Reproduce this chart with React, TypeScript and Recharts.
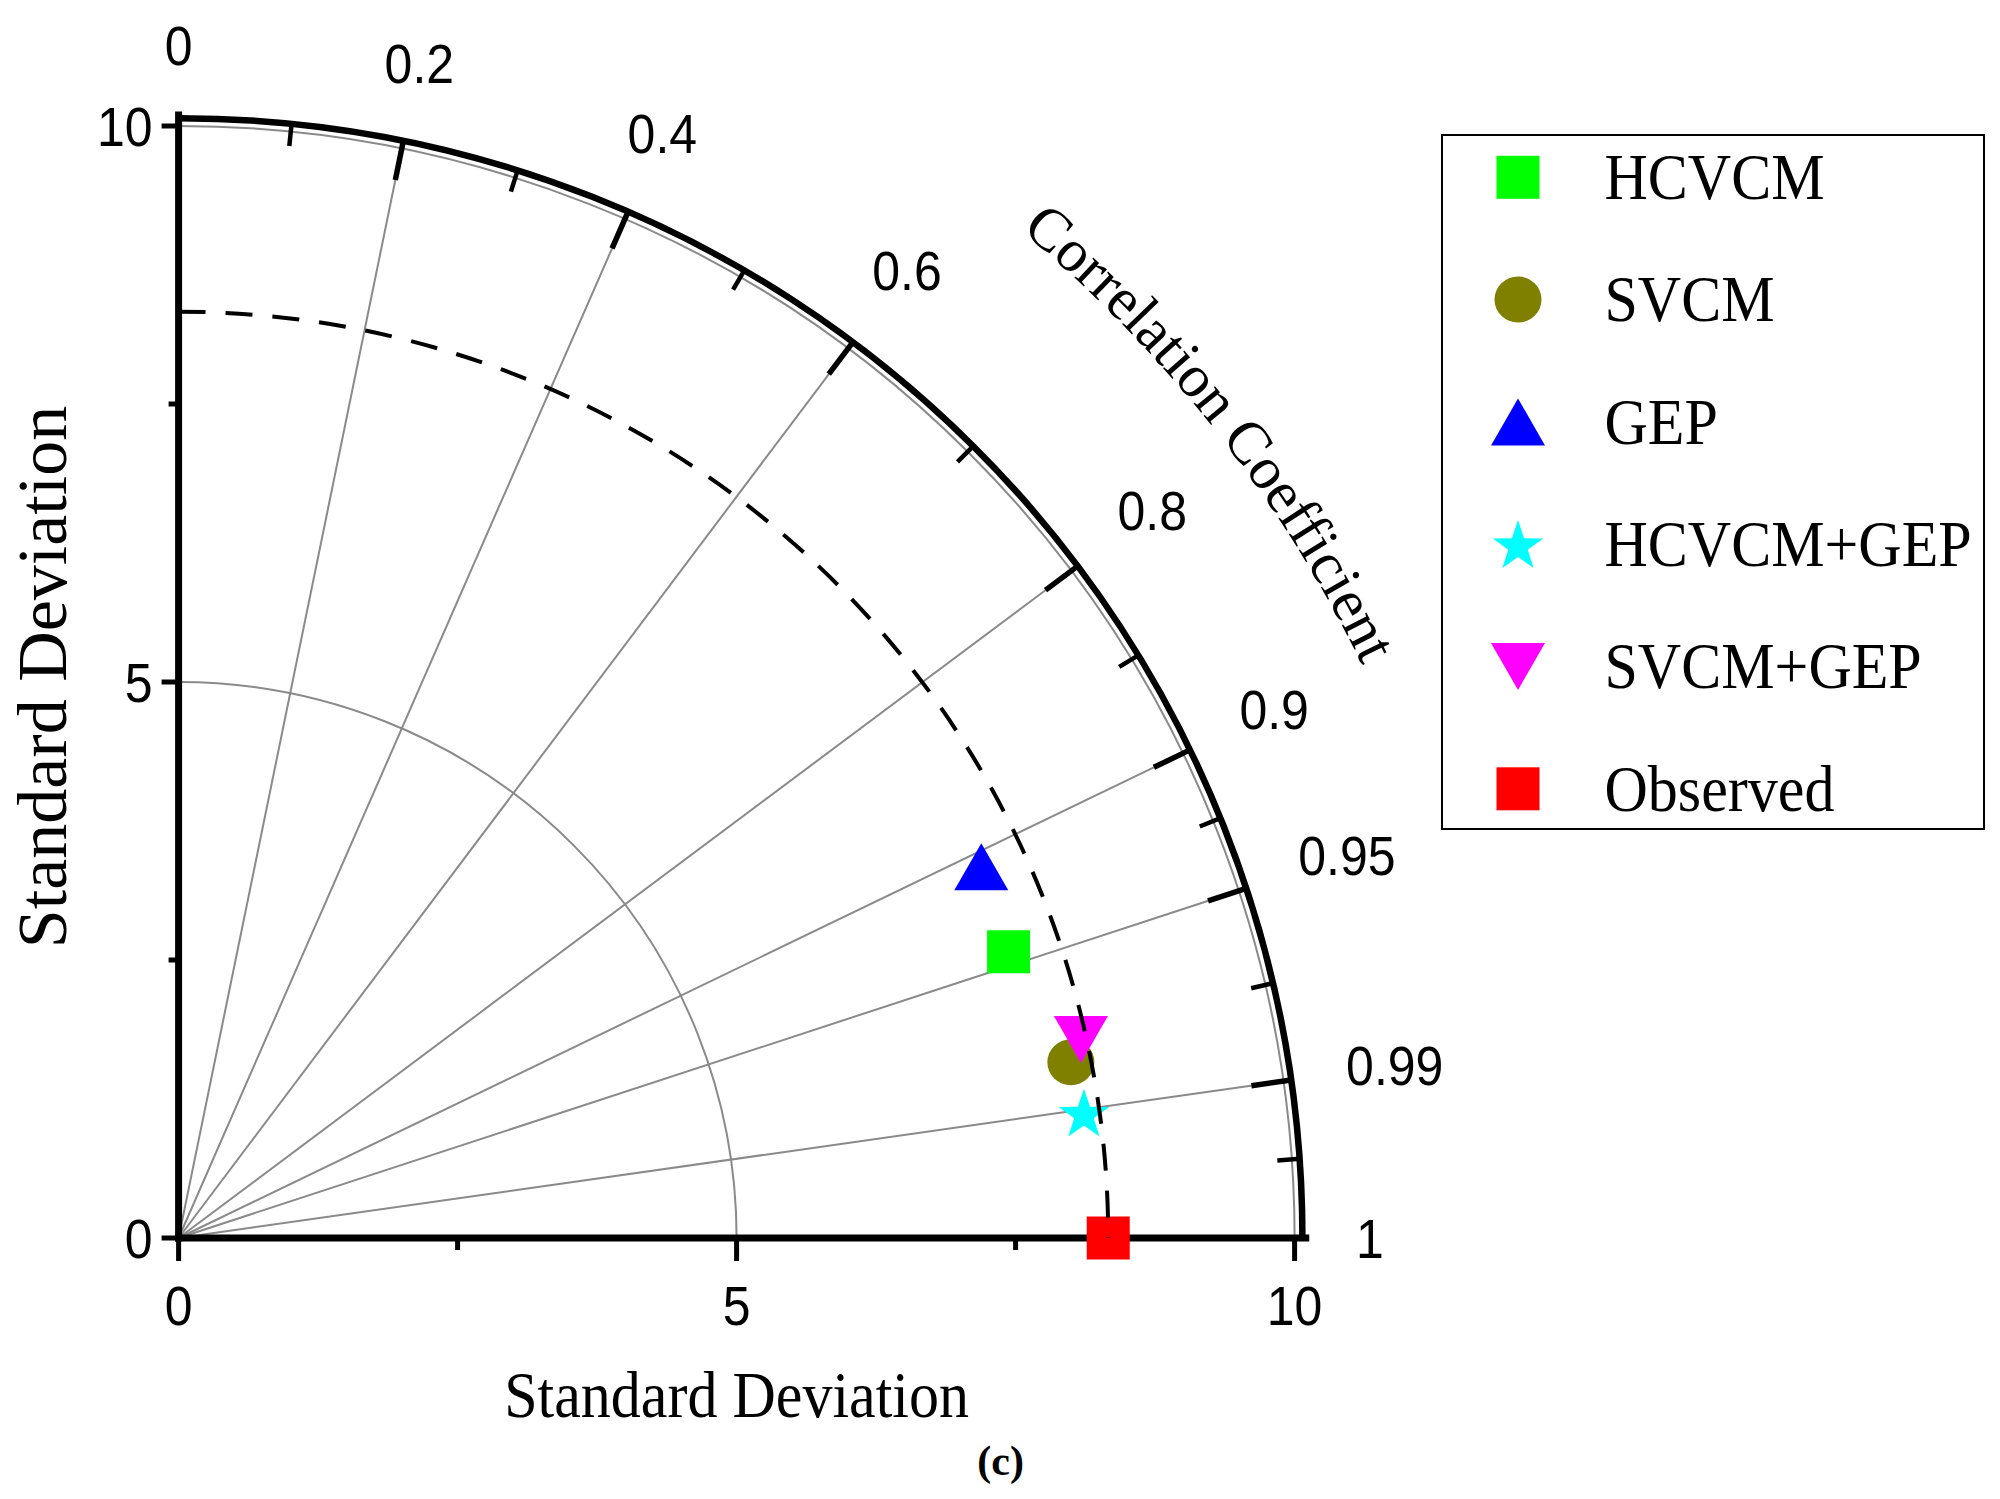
import React from "react";
import { ScatterChart, Scatter, XAxis, YAxis, ReferenceLine, Legend } from "recharts";

// Taylor diagram: model skill against the observed series
const models = ["HCVCM", "SVCM", "GEP", "HCVCM+GEP", "SVCM+GEP", "Observed"];
const stdDevs = [7.87, 8.15, 7.93, 8.19, 8.28, 8.33];
const correlations = [0.945, 0.981, 0.907, 0.9905, 0.9765, 1];
const markerKinds = ["square", "circle", "triangle", "star", "triangleDown", "square"];
const markerColors = ["#00ff00", "#808000", "#0000ff", "#00ffff", "#ff00ff", "#ff0000"];

const stdTicks = [0, 2.5, 5, 7.5, 10];
const stdTickLabels = [0, 5, 10];
const corrTicks = [0, 0.2, 0.4, 0.6, 0.8, 0.9, 0.95, 0.99, 1];
const stdArcs = [5, 10];

const observedStd = stdDevs[models.indexOf("Observed")];

const SANS = "'Liberation Sans', Arial, Helvetica, sans-serif";
const SERIF = "'Liberation Serif', 'Times New Roman', Times, serif";
const GRID = "#8a8a8a";

const toDeg = (c: number) => (Math.acos(c) * 180) / Math.PI;

const points = models.map((name, i) => {
  const t = Math.acos(correlations[i]);
  return { name, x: stdDevs[i] * Math.cos(t), y: stdDevs[i] * Math.sin(t) };
});

type MarkerProps = { kind: string; color: string; cx?: number; cy?: number };

function Marker({ kind, color, cx, cy }: MarkerProps) {
  if (cx == null || cy == null) return null;
  switch (kind) {
    case "square":
      return <rect x={cx - 21.5} y={cy - 21.5} width={43} height={43} fill={color} />;
    case "circle":
      return <ellipse cx={cx} cy={cy} rx={23.5} ry={23} fill={color} />;
    case "triangle":
      return (
        <polygon
          points={`${cx},${cy - 23.5} ${cx + 27},${cy + 23.5} ${cx - 27},${cy + 23.5}`}
          fill={color}
        />
      );
    case "triangleDown":
      return (
        <polygon
          points={`${cx - 27},${cy - 23.5} ${cx + 27},${cy - 23.5} ${cx},${cy + 23.5}`}
          fill={color}
        />
      );
    case "star": {
      const pts: string[] = [];
      for (let k = 0; k < 10; k++) {
        const r = k % 2 === 0 ? 26.5 : 10.3;
        const a = -Math.PI / 2 + (k * Math.PI) / 5;
        pts.push(`${cx + r * Math.cos(a)},${cy + 2.4 + r * Math.sin(a)}`);
      }
      return <polygon points={pts.join(" ")} fill={color} />;
    }
    default:
      return null;
  }
}

function StdTickX(props: any) {
  const { x, y, payload } = props;
  const v = payload.value;
  const major = stdTickLabels.includes(v);
  return (
    <g>
      <line x1={x} y1={y} x2={x} y2={y + (major ? 23 : 12)} stroke="#000" strokeWidth={5} />
      {major && (
        <text
          transform={`translate(${x} ${y + 87}) scale(1 1.1)`}
          textAnchor="middle"
          fontFamily={SANS}
          fontSize={50}
          fill="#000"
        >
          {v}
        </text>
      )}
    </g>
  );
}

function StdTickY(props: any) {
  const { x, y, payload } = props;
  const v = payload.value;
  const major = stdTickLabels.includes(v);
  return (
    <g>
      <line x1={x} y1={y} x2={x - (major ? 17 : 10)} y2={y} stroke="#000" strokeWidth={5} />
      {major && (
        <text
          transform={`translate(${x - 26} ${y + 19.7}) scale(1 1.1)`}
          textAnchor="end"
          fontFamily={SANS}
          fontSize={50}
          fill="#000"
        >
          {v}
        </text>
      )}
    </g>
  );
}

// polar helpers built from the pixel ends of a (0,0)-(10,10) segment
function polar(props: any) {
  const { x1, y1, x2, y2 } = props;
  const kx = (x2 - x1) / 10;
  const ky = (y1 - y2) / 10;
  const at = (r: number, a: number) => {
    const t = (a * Math.PI) / 180;
    return [x1 + r * Math.cos(t) * kx, y1 - r * Math.sin(t) * ky];
  };
  const arc = (r: number, from: number, to: number) => {
    const [ax, ay] = at(r, from);
    const [bx, by] = at(r, to);
    return `M${ax},${ay} A${r * kx},${r * ky} 0 0 1 ${bx},${by}`;
  };
  return { x1, y1, kx, ky, at, arc };
}

function PolarFrame(props: any) {
  if ([props.x1, props.y1, props.x2, props.y2].some((v) => typeof v !== "number" || isNaN(v))) return null;
  const { x1, y1, kx, ky, at, arc } = polar(props);
  const angles = corrTicks.map(toDeg);
  const majors = corrTicks.filter((c) => c > 0 && c < 1).map(toDeg);
  const minors = angles.slice(1).map((a, i) => (a + angles[i]) / 2);
  const unit = (kx + ky) / 2;

  return (
    <g>
      {/* radial correlation lines */}
      {majors.map((a) => {
        const [ex, ey] = at(9.72, a);
        return <line key={`r${a}`} x1={x1} y1={y1} x2={ex} y2={ey} stroke={GRID} strokeWidth={2} />;
      })}
      {/* standard deviation arcs */}
      {stdArcs.map((r) => (
        <path key={`a${r}`} d={arc(r, 90, 0)} fill="none" stroke={GRID} strokeWidth={2} />
      ))}
      {/* outer frame and axes */}
      <path d={arc(10.07, 90, 0)} fill="none" stroke="#000" strokeWidth={6.5} />
      <line x1={x1} y1={y1} x2={at(10.1, 0)[0]} y2={y1} stroke="#000" strokeWidth={7} strokeLinecap="square" />
      <line x1={x1} y1={y1} x2={x1} y2={at(10.1, 90)[1]} stroke="#000" strokeWidth={7} strokeLinecap="square" />
      {majors.map((a) => {
        const [ax, ay] = at(9.71, a);
        const [bx, by] = at(10.07, a);
        return <line key={`t${a}`} x1={ax} y1={ay} x2={bx} y2={by} stroke="#000" strokeWidth={5.5} />;
      })}
      {minors.map((a) => {
        const [ax, ay] = at(9.87, a);
        const [bx, by] = at(10.07, a);
        return <line key={`m${a}`} x1={ax} y1={ay} x2={bx} y2={by} stroke="#000" strokeWidth={4.5} />;
      })}
      {/* correlation tick labels */}
      {corrTicks.map((c) => {
        const label = String(c);
        const a = toDeg(c);
        const t = (a * Math.PI) / 180;
        const hw = (label.split("").reduce((s, ch) => s + (ch === "." ? 0.278 : 0.556), 0) * 50) / 2;
        const hh = 19.7;
        const rc = 10.55 + (hw * Math.abs(Math.cos(t)) + hh * Math.sin(t)) / unit;
        const [lx, ly] = at(rc, a);
        return (
          <text
            key={`l${c}`}
            transform={`translate(${lx} ${ly + hh}) scale(1 1.1)`}
            textAnchor="middle"
            fontFamily={SANS}
            fontSize={50}
            fill="#000"
          >
            {label}
          </text>
        );
      })}
      <defs>
        <path id="corrTitlePath" d={arc(11.79, 50.2, 5)} />
      </defs>
      <text fontFamily={SERIF} fontSize={60} fill="#000">
        <textPath href="#corrTitlePath">Correlation Coefficient</textPath>
      </text>
      {/* axis titles */}
      <text
        transform={`translate(${x1 + 5 * kx} ${y1 + 179}) scale(1 1.1)`}
        textAnchor="middle"
        fontFamily={SERIF}
        fontSize={60}
        fill="#000"
      >
        Standard Deviation
      </text>
      <text
        transform={`translate(${x1 - 113} ${y1 - 5 * ky - 5}) rotate(-90)`}
        textAnchor="middle"
        fontFamily={SERIF}
        fontSize={70}
        fill="#000"
      >
        Standard Deviation
      </text>
      <text
        x={x1 + 822}
        y={y1 + 237}
        textAnchor="middle"
        fontFamily={SERIF}
        fontSize={42}
        fontWeight="bold"
        fill="#000"
      >
        (c)
      </text>
    </g>
  );
}

function ObservedArc(props: any) {
  if ([props.x1, props.y1, props.x2, props.y2].some((v) => typeof v !== "number" || isNaN(v))) return null;
  const { arc } = polar(props);
  return <path d={arc(observedStd, 90, 0)} fill="none" stroke="#000" strokeWidth={4} strokeDasharray="27 20" />;
}

function LegendBox() {
  const top = 43.3;
  const step = 122.3;
  return (
    <svg width={544} height={696} style={{ display: "block" }}>
      <rect x={1} y={1} width={542} height={694} fill="#fff" stroke="#000" strokeWidth={2} />
      {models.map((m, i) => {
        const cy = top + i * step;
        return (
          <g key={m}>
            <Marker kind={markerKinds[i]} color={markerColors[i]} cx={77} cy={cy} />
            <text
              transform={`translate(163.5 ${cy + 21.8}) scale(1 1.1)`}
              fontFamily={SERIF}
              fontSize={60}
              fill="#000"
            >
              {m}
            </text>
          </g>
        );
      })}
    </svg>
  );
}

const segment = [
  { x: 0, y: 0 },
  { x: 10, y: 10 },
];

export default function App() {
  return (
    <div style={{ width: 1984, height: 1480, background: "#fff" }}>
      <ScatterChart
        width={1984}
        height={1480}
        margin={{ top: 118, right: 697.4, bottom: 150, left: 70.6 }}
      >
        <XAxis
          type="number"
          dataKey="x"
          domain={[0, 10]}
          ticks={stdTicks}
          interval={0}
          axisLine={false}
          tickLine={false}
          tickSize={0}
          tickMargin={0}
          height={100}
          tick={(p: any) => <StdTickX {...p} />}
        />
        <YAxis
          type="number"
          dataKey="y"
          domain={[0, 10]}
          ticks={stdTicks}
          interval={0}
          axisLine={false}
          tickLine={false}
          tickSize={0}
          tickMargin={0}
          width={100}
          tick={(p: any) => <StdTickY {...p} />}
        />
        <ReferenceLine segment={segment} ifOverflow="visible" shape={(p: any) => <PolarFrame {...p} />} />
        {points.map((pt, i) => (
          <Scatter
            key={pt.name}
            name={pt.name}
            data={[pt]}
            isAnimationActive={false}
            shape={(p: any) => <Marker kind={markerKinds[i]} color={markerColors[i]} cx={p.cx} cy={p.cy} />}
          />
        ))}
        <ReferenceLine
          segment={segment}
          ifOverflow="visible"
          zIndex={700}
          shape={(p: any) => <ObservedArc {...p} />}
        />
        <Legend
          layout="horizontal"
          align="center"
          verticalAlign="middle"
          wrapperStyle={{ left: 1433, top: 126, width: 544, height: 696 }}
          content={() => <LegendBox />}
        />
      </ScatterChart>
    </div>
  );
}
